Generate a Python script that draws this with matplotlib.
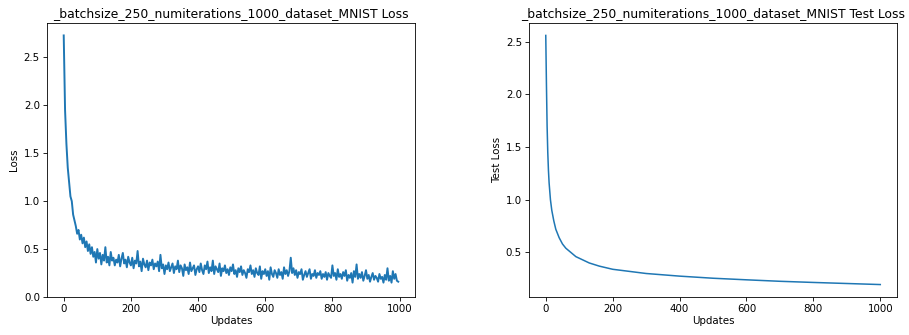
import numpy as np
import matplotlib
matplotlib.use('Agg')
import matplotlib.pyplot as plt


title_prefix = '_batchsize_250_numiterations_1000_dataset_MNIST'

# training loss, one value every 4 updates
step = 4
loss = [
    2.73, 1.95, 1.60, 1.35, 1.20, 1.05, 1.00, 0.86, 0.80, 0.74,
    0.66, 0.70, 0.60, 0.65, 0.56, 0.62, 0.52, 0.58, 0.48, 0.55,
    0.45, 0.52, 0.42, 0.47, 0.36, 0.50, 0.40, 0.46, 0.34, 0.44,
    0.38, 0.52, 0.36, 0.42, 0.33, 0.47, 0.38, 0.41, 0.33, 0.39,
    0.36, 0.44, 0.32, 0.40, 0.46, 0.35, 0.39, 0.31, 0.42, 0.36,
    0.33, 0.41, 0.30, 0.38, 0.35, 0.48, 0.32, 0.37, 0.27, 0.40,
    0.34, 0.31, 0.38, 0.28, 0.36, 0.33, 0.39, 0.29, 0.35, 0.32,
    0.37, 0.27, 0.44, 0.30, 0.34, 0.24, 0.33, 0.29, 0.36, 0.27,
    0.31, 0.35, 0.25, 0.32, 0.29, 0.38, 0.26, 0.33, 0.30, 0.22,
    0.34, 0.28, 0.31, 0.24, 0.36, 0.27, 0.30, 0.33, 0.23, 0.29,
    0.32, 0.26, 0.35, 0.28, 0.24, 0.33, 0.29, 0.37, 0.25, 0.31,
    0.27, 0.38, 0.24, 0.32, 0.29, 0.26, 0.35, 0.22, 0.30, 0.27,
    0.33, 0.25, 0.29, 0.23, 0.31, 0.27, 0.34, 0.24, 0.28, 0.21,
    0.30, 0.26, 0.32, 0.23, 0.28, 0.25, 0.20, 0.29, 0.26, 0.33,
    0.24, 0.28, 0.21, 0.30, 0.25, 0.23, 0.32, 0.19, 0.27, 0.24,
    0.29, 0.22, 0.27, 0.18, 0.31, 0.24, 0.21, 0.28, 0.25, 0.20,
    0.29, 0.23, 0.26, 0.19, 0.31, 0.24, 0.28, 0.22, 0.27, 0.41,
    0.25, 0.30, 0.23, 0.28, 0.20, 0.26, 0.24, 0.29, 0.18, 0.23,
    0.27, 0.21, 0.25, 0.29, 0.19, 0.24, 0.22, 0.28, 0.20, 0.25,
    0.23, 0.27, 0.19, 0.24, 0.21, 0.26, 0.18, 0.25, 0.22, 0.20,
    0.33, 0.22, 0.25, 0.18, 0.29, 0.21, 0.24, 0.19, 0.26, 0.22,
    0.28, 0.17, 0.23, 0.20, 0.25, 0.15, 0.27, 0.21, 0.34, 0.19,
    0.24, 0.20, 0.26, 0.17, 0.22, 0.28, 0.19, 0.23, 0.16, 0.21,
    0.25, 0.18, 0.22, 0.20, 0.16, 0.24, 0.19, 0.21, 0.15, 0.23,
    0.18, 0.30, 0.17, 0.22, 0.15, 0.27, 0.19, 0.24, 0.17, 0.16,
]

# test loss at selected updates
test_updates = [0, 2, 4, 6, 8, 10, 14, 18, 24, 30, 40, 50, 60, 75, 90,
                110, 130, 160, 200, 250, 300, 400, 500, 600, 700, 800, 900, 1000]
test_loss = [2.56, 2.10, 1.70, 1.45, 1.28, 1.16, 1.00, 0.90, 0.80, 0.72,
             0.64, 0.58, 0.54, 0.50, 0.46, 0.43, 0.40, 0.37, 0.34, 0.32,
             0.30, 0.275, 0.255, 0.24, 0.226, 0.215, 0.205, 0.195]

fs = 7.4
plt.rcParams['font.size'] = fs
plt.rcParams['axes.linewidth'] = 0.6
plt.rcParams['xtick.major.size'] = 2.6
plt.rcParams['ytick.major.size'] = 2.6
plt.rcParams['xtick.major.width'] = 0.6
plt.rcParams['ytick.major.width'] = 0.6
plt.rcParams['xtick.major.pad'] = 2.5
plt.rcParams['ytick.major.pad'] = 2.5

fig = plt.figure(figsize=(9.09, 3.35), dpi=100)

#plot training loss
ax1 = fig.add_axes([0.0517, 0.1134, 0.4048, 0.818])
x1 = np.arange(len(loss)) * step
ax1.plot(x1, loss, color='#1f77b4', linewidth=1.4)
ax1.set_ylim(0, 2.86)
ax1.set_xlabel('Updates', labelpad=1.5)
ax1.set_ylabel('Loss', labelpad=3)
ax1.set_title(title_prefix + ' Loss', fontsize=8.9, pad=4)

#plot test loss
ax2 = fig.add_axes([0.582, 0.1134, 0.4048, 0.818])
ax2.plot(test_updates, test_loss, color='#1f77b4', linewidth=1.1)
ax2.set_xlabel('Updates', labelpad=1.5)
ax2.set_ylabel('Test Loss', labelpad=3)
ax2.set_title(title_prefix + ' Test Loss', fontsize=8.9, pad=4)

plt.savefig('out.png', dpi=100)
